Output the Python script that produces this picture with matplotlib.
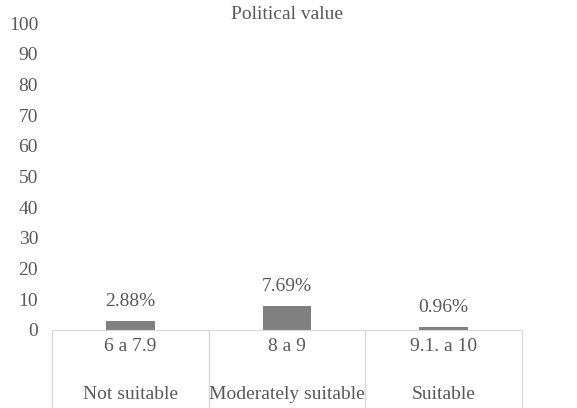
import matplotlib.pyplot as plt
import matplotlib.transforms as mtransforms

ranges = ['6 a 7.9', '8 a 9', '9.1. a 10']
groups = ['Not suitable', 'Moderately suitable', 'Suitable']
values = [2.88, 7.69, 0.96]
labels = ['2.88%', '7.69%', '0.96%']

plt.rcParams['font.family'] = ['Liberation Serif', 'DejaVu Serif']
txt = '#595959'
grid = '#d9d9d9'
fs = 14

fig = plt.figure(figsize=(5.77, 4.08), dpi=100)
ax = fig.add_axes([52 / 577, 78 / 408, 470 / 577, 307 / 408])

x = list(range(len(values)))
ax.bar(x, values, width=0.31, color='#808080')
for xi, v, lab in zip(x, values, labels):
    ax.annotate(lab, (xi, v), xytext=(0, 8), textcoords='offset points',
                ha='center', va='bottom', fontsize=fs, color=txt)

ax.set_xlim(-0.5, len(values) - 0.5)
ax.set_ylim(0, 100)
ax.set_yticks(range(0, 101, 10))
ax.tick_params(axis='y', length=0, pad=10, labelsize=fs, labelcolor=txt)
ax.set_xticks([])
for s in ['top', 'right', 'left']:
    ax.spines[s].set_visible(False)
ax.spines['bottom'].set_color(grid)

# multi-level category axis
tr = mtransforms.blended_transform_factory(ax.transData, ax.transAxes)
for xi in range(len(values) + 1):
    ax.plot([xi - 0.5, xi - 0.5], [0, -0.26], transform=tr, color=grid,
            lw=1, clip_on=False)
for xi, r, g in zip(x, ranges, groups):
    ax.text(xi, -0.055, r, transform=tr, ha='center', va='center',
            fontsize=fs, color=txt)
    ax.text(xi, -0.21, g, transform=tr, ha='center', va='center',
            fontsize=fs, color=txt)

ax.set_title('Political value', fontsize=fs, color=txt, pad=3)

fig.savefig('out.png', dpi=100)
